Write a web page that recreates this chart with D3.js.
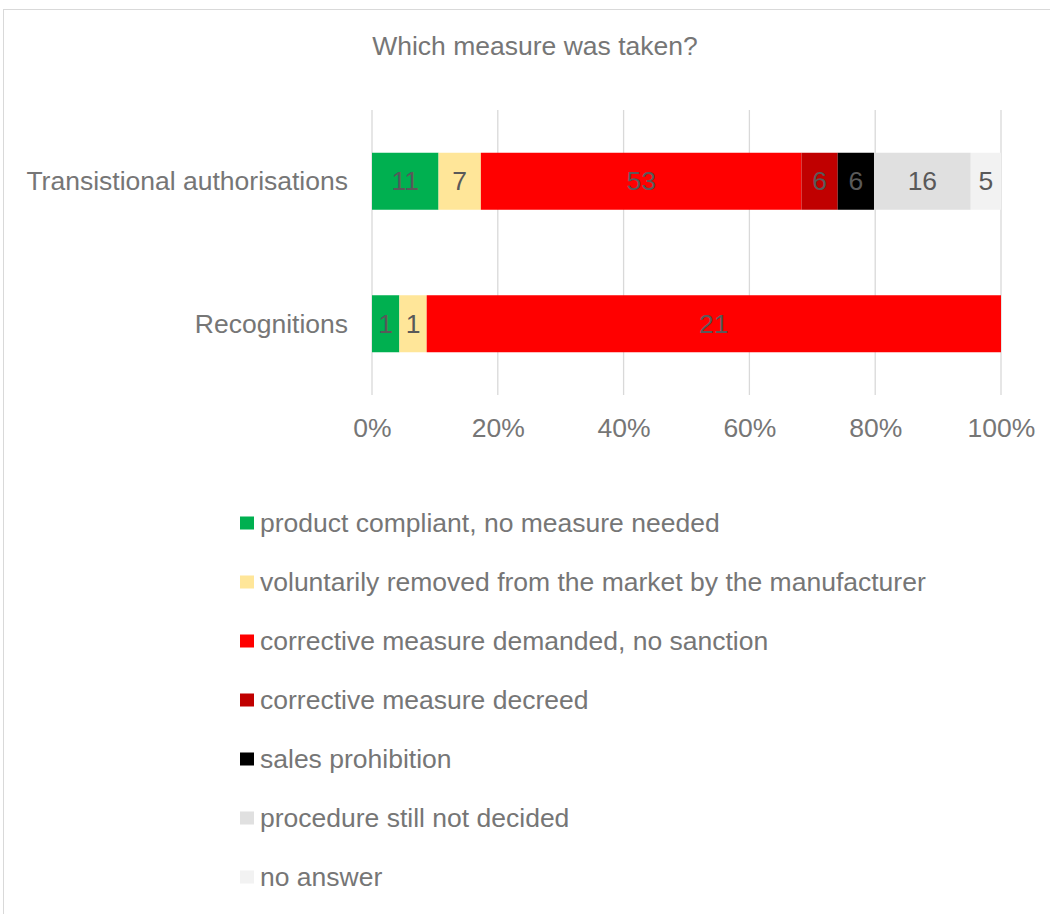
<!DOCTYPE html>
<html><head><meta charset="utf-8">
<script src="https://cdn.jsdelivr.net/npm/d3@7"></script>
<style>body{margin:0;background:#fff;} text{font-family:"Liberation Sans",Arial,sans-serif;}</style>
</head><body><svg id="c" width="1050" height="914"></svg>
<script>
const categories = ["Transistional authorisations", "Recognitions"];
const seriesNames = ["product compliant, no measure needed","voluntarily removed from the market by the manufacturer","corrective measure demanded, no sanction","corrective measure decreed","sales prohibition","procedure still not decided","no answer"];
const seriesColors = ["#00B050","#FFE699","#FF0000","#C00000","#000000","#E0E0E0","#F2F2F2"];
const transitionalValues = [11,7,53,6,6,16,5];
const recognitionValues = [1,1,21,0,0,0,0];
const tickLabels = [0,0.2,0.4,0.6,0.8,1.0];
const title = "Which measure was taken?";

const rows = [transitionalValues, recognitionValues];
const svg = d3.select("#c");
const txt = "#767676";
const lbl = "#595959";
const fs = 26.5;
svg.append("rect").attr("x",3.5).attr("y",9.5).attr("width",1100).attr("height",1000).attr("fill","#fff").attr("stroke","#D9D9D9");

const x = d3.scaleLinear().domain([0,1]).range([372,1001]);
const y = d3.scaleBand().domain(categories).range([110,395]).paddingInner(0.6).paddingOuter(0.3);

svg.append("text").attr("x",535).attr("y",55).attr("text-anchor","middle").attr("fill",txt).attr("font-size",fs).text(title);

svg.append("g").selectAll("line").data(tickLabels).join("line")
  .attr("x1",d=>x(d)).attr("x2",d=>x(d)).attr("y1",110).attr("y2",395)
  .attr("stroke","#D9D9D9").attr("stroke-width",1.3);

rows.forEach((vals,i)=>{
  const total = d3.sum(vals);
  let cum = 0;
  const segs = vals.map((v,j)=>{const s={v,j,x0:cum/total,x1:(cum+v)/total}; cum+=v; return s;}).filter(s=>s.v>0);
  const g = svg.append("g");
  g.selectAll("rect").data(segs).join("rect")
    .attr("x",d=>x(d.x0)).attr("width",d=>x(d.x1)-x(d.x0))
    .attr("y",y(categories[i])).attr("height",y.bandwidth())
    .attr("fill",d=>seriesColors[d.j]);
  g.selectAll("text").data(segs).join("text")
    .attr("x",d=>(x(d.x0)+x(d.x1))/2).attr("y",y(categories[i])+y.bandwidth()/2+9)
    .attr("text-anchor","middle").attr("font-size",fs).attr("fill",lbl).text(d=>d.v);
});

svg.append("g").selectAll("text").data(categories).join("text")
  .attr("x",348).attr("y",d=>y(d)+y.bandwidth()/2+9).attr("text-anchor","end")
  .attr("font-size",fs).attr("fill",txt).text(d=>d);

const ax = svg.append("g").attr("transform","translate(0,395)")
  .call(d3.axisBottom(x).tickValues(tickLabels).tickFormat(d3.format(".0%")).tickSize(0).tickPadding(20));
ax.select(".domain").remove();
ax.selectAll("text").attr("font-size",fs).attr("fill",txt).attr("dy",null).attr("y",42);

const lg = svg.append("g").selectAll("g").data(seriesNames).join("g")
  .attr("transform",(d,i)=>`translate(240,${523+i*59})`);
lg.append("rect").attr("x",0).attr("y",-6.5).attr("width",14).attr("height",13).attr("fill",(d,i)=>seriesColors[i]);
lg.append("text").attr("x",20).attr("y",9).attr("font-size",fs).attr("fill",txt).text(d=>d);
</script></body></html>
